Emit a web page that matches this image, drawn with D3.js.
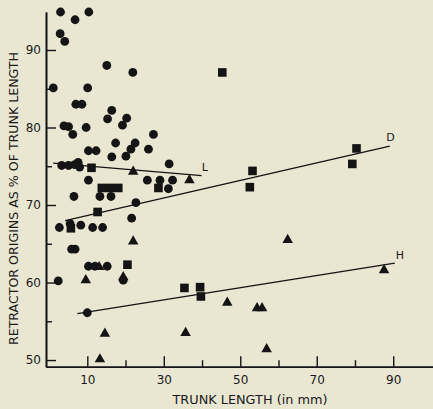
<!DOCTYPE html>
<html><head><meta charset="utf-8">
<script src="https://cdn.jsdelivr.net/npm/d3@7"></script>
<style>
html,body{margin:0;padding:0;background:#e9e6d1;}
svg{display:block;}
text{font-family:"DejaVu Sans",sans-serif;fill:#1a1a1a;}
</style></head>
<body>
<svg id="chart" width="433" height="409"></svg>
<script>
// ---- data (trunk length mm, retractor origin %) ----
const circleX = [3.0,6.8,10.4,2.9,4.1,15.1,21.9,1.1,10.1,7.0,8.6,16.4,15.3,20.3,19.2,3.9,5.1,6.2,9.7,27.3,17.4,22.5,21.4,26.0,20.1,10.3,12.3,16.4,31.4,3.3,5.1,6.7,7.6,8.0,10.3,25.7,29.0,32.3,31.2,6.5,13.3,16.2,22.7,21.6,2.7,5.5,8.3,11.4,14.0,5.9,6.8,10.3,12.0,15.2,2.4,19.4,10.0];
const circleY = [94.9,93.9,94.9,92.1,91.1,88.0,87.1,85.1,85.1,83.0,83.0,82.2,81.1,81.2,80.3,80.2,80.1,79.1,80.0,79.1,78.0,78.0,77.2,77.2,76.3,77.0,77.0,76.2,75.3,75.1,75.1,75.2,75.5,74.9,73.2,73.2,73.2,73.2,72.1,71.1,71.1,71.1,70.3,68.3,67.1,67.6,67.4,67.1,67.1,64.3,64.3,62.1,62.1,62.1,60.2,60.3,56.1];
const squareX = [11.1,13.8,16.0,18.1,28.6,12.7,5.7,20.5,35.4,39.5,39.7,45.3,53.2,52.5,80.4,79.3];
const squareY = [74.8,72.2,72.2,72.2,72.2,69.1,67.0,62.3,59.3,59.4,58.2,87.1,74.4,72.3,77.3,75.3];
const triX = [22.0,36.7,22.0,13.1,9.6,19.4,14.6,13.3,35.7,46.6,54.4,55.7,56.9,62.4,87.6];
const triY = [74.3,73.2,65.3,62.0,60.3,60.7,53.4,50.1,53.5,57.4,56.7,56.7,51.4,65.5,61.6];
// regression lines: [x1,y1,x2,y2]
const lineNames = ["L","D","H"];
const lineStart = [[1.1,75.4],[4.2,68.0],[7.4,56.0]];
const lineEnd = [[39.9,73.8],[89.1,77.6],[90.4,62.5]];
const xMajorTicks = [10,30,50,70,90];
const xMinorTicks = [20,40,60,80];
const yMajorTicks = [50,60,70,80,90];
const yMinorTicks = [55,65,75,85];
const xTitle = "TRUNK LENGTH (in mm)";
const yTitle = "RETRACTOR ORIGINS AS % OF TRUNK LENGTH";

const svg = d3.select("#chart");
const x = d3.scaleLinear().domain([-0.8,100.4]).range([46,433]);
const y = d3.scaleLinear().domain([49.14,94.9]).range([366.7,12]);
const ink = "#141414";

// axes
const gx = svg.append("g").attr("transform",`translate(0,${y.range()[0]})`);
gx.call(d3.axisBottom(x).tickValues(xMajorTicks).tickSizeInner(-10.5).tickSizeOuter(0).tickPadding(7).tickFormat(d3.format("d")));
const gx2 = svg.append("g").attr("transform",`translate(0,${y.range()[0]})`);
gx2.call(d3.axisBottom(x).tickValues(xMinorTicks).tickSizeInner(-6.5).tickSizeOuter(0).tickFormat(""));
const gy = svg.append("g").attr("transform",`translate(${x.range()[0]},0)`);
gy.call(d3.axisLeft(y).tickValues(yMajorTicks).tickSizeInner(-10).tickSizeOuter(0).tickPadding(5).tickFormat(d3.format("d")));
const gy2 = svg.append("g").attr("transform",`translate(${x.range()[0]},0)`);
gy2.call(d3.axisLeft(y).tickValues(yMinorTicks).tickSizeInner(-6).tickSizeOuter(0).tickFormat(""));
svg.selectAll(".domain").attr("stroke",ink).attr("stroke-width",1.6);
svg.selectAll(".tick line").attr("stroke",ink).attr("stroke-width",1.4);
svg.selectAll(".tick text").attr("fill","#1a1a1a").style("font-size","12px").style("font-family","DejaVu Sans, sans-serif");
gx.selectAll(".tick text").attr("dy","0.9em");

// titles
svg.append("text").attr("x",250).attr("y",404).attr("text-anchor","middle")
  .attr("textLength",155).attr("lengthAdjust","spacingAndGlyphs")
  .style("font-size","12.5px").text(xTitle);
svg.append("text").attr("transform","translate(17.5,198.5) rotate(-90)").attr("text-anchor","middle")
  .attr("textLength",293).attr("lengthAdjust","spacingAndGlyphs")
  .style("font-size","12.5px").text(yTitle);

// regression lines
const lg = svg.append("g");
lineNames.forEach((n,i)=>{
  lg.append("line").attr("x1",x(lineStart[i][0])).attr("y1",y(lineStart[i][1]))
    .attr("x2",x(lineEnd[i][0])).attr("y2",y(lineEnd[i][1]))
    .attr("stroke",ink).attr("stroke-width",1.3);
});
const lblOff = [[0,-5],[-3.5,-5],[1,-3.7]];
lineNames.forEach((n,i)=>{
  lg.append("text").attr("x",x(lineEnd[i][0])+lblOff[i][0]).attr("y",y(lineEnd[i][1])+lblOff[i][1])
    .style("font-size","11px").text(n);
});

// markers
const circles = circleX.map((v,i)=>[v,circleY[i]]);
const squares = squareX.map((v,i)=>[v,squareY[i]]);
const tris = triX.map((v,i)=>[v,triY[i]]);
svg.append("g").selectAll("circle").data(circles).join("circle")
  .attr("cx",d=>x(d[0])).attr("cy",d=>y(d[1])).attr("r",4.4).attr("fill",ink);
svg.append("g").selectAll("rect").data(squares).join("rect")
  .attr("x",d=>x(d[0])-4.3).attr("y",d=>y(d[1])-4.3).attr("width",8.6).attr("height",8.6).attr("fill",ink);
const triPath = d3.symbol().type(d3.symbolTriangle).size(48);
svg.append("g").selectAll("path").data(tris).join("path")
  .attr("d",triPath).attr("transform",d=>`translate(${x(d[0])},${y(d[1])})`).attr("fill",ink);
</script>
</body></html>
